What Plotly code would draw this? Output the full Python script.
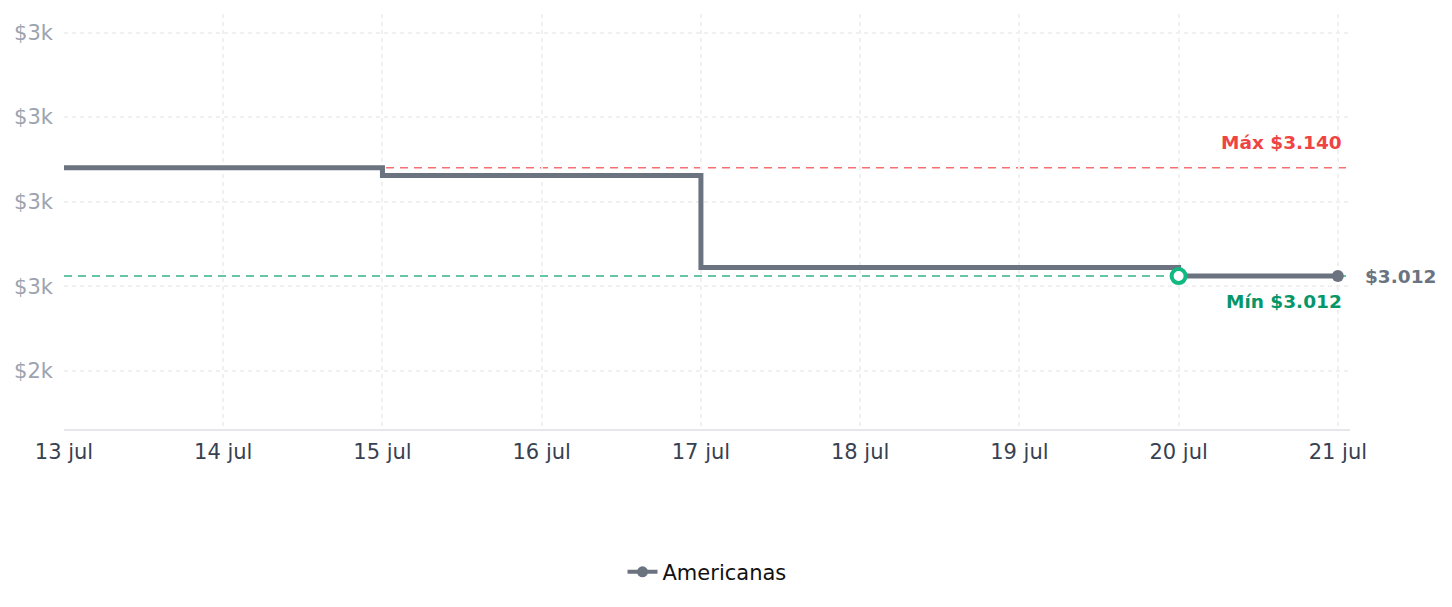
import plotly.graph_objects as go

dates = ["2024-07-13", "2024-07-14", "2024-07-15", "2024-07-16", "2024-07-17",
         "2024-07-18", "2024-07-19", "2024-07-20", "2024-07-21"]
prices = [3140, 3140, 3131, 3131, 3022, 3022, 3022, 3012, 3012]
x_ticks = dates
x_labels = ["13 jul", "14 jul", "15 jul", "16 jul", "17 jul", "18 jul", "19 jul", "20 jul", "21 jul"]
y_ticks = [2900, 3000, 3100, 3200, 3300]
y_labels = ["$2k", "$3k", "$3k", "$3k", "$3k"]
max_price = 3140
min_price = 3012
min_date = "2024-07-20"
last_date = "2024-07-21"
last_price = 3012

GRAY = "#6b7280"
FONT = "DejaVu Sans"

fig = go.Figure()

# reference lines
fig.add_shape(type="line", xref="paper", x0=0, x1=1, yref="y", y0=max_price, y1=max_price,
              line=dict(color="#f87171", width=1.5, dash="8px,6px"), layer="below")
fig.add_shape(type="line", xref="paper", x0=0, x1=1, yref="y", y0=min_price, y1=min_price,
              line=dict(color="#34b38a", width=1.5, dash="8px,6px"), layer="below")

fig.add_trace(go.Scatter(
    x=dates, y=prices, mode="lines", line=dict(color=GRAY, width=5, shape="hv"),
    showlegend=False, hoverinfo="skip"))

fig.add_trace(go.Scatter(
    x=[last_date], y=[last_price], mode="markers",
    marker=dict(color=GRAY, size=12), showlegend=False))

fig.add_trace(go.Scatter(
    x=[min_date], y=[min_price], mode="markers",
    marker=dict(color="white", size=14, line=dict(color="#10b981", width=4)),
    showlegend=False))

# legend entry
fig.add_trace(go.Scatter(
    x=[None], y=[None], mode="lines+markers", name="Americanas",
    line=dict(color=GRAY, width=4), marker=dict(color=GRAY, size=11)))

fig.add_annotation(x=1, xref="paper", xanchor="right", xshift=-6, y=max_price, yref="y",
                   yanchor="bottom", yshift=13, text="<b>Máx $3.140</b>", showarrow=False,
                   font=dict(color="#ef4444", size=18.5, family=FONT))
fig.add_annotation(x=1, xref="paper", xanchor="right", xshift=-6, y=min_price, yref="y",
                   yanchor="top", yshift=-13, text="<b>Mín $3.012</b>", showarrow=False,
                   font=dict(color="#059669", size=18.5, family=FONT))
fig.add_annotation(x=last_date, y=last_price, xanchor="left", xshift=25, yanchor="middle",
                   text="<b>$3.012</b>", showarrow=False,
                   font=dict(color=GRAY, size=18.5, family=FONT))

fig.update_layout(
    width=1452, height=607,
    margin=dict(l=64, r=102, t=14, b=178),
    paper_bgcolor="white", plot_bgcolor="white",
    font=dict(family=FONT, size=21),
    legend=dict(orientation="h", x=0.5, xanchor="center", y=-0.345, yanchor="middle",
                font=dict(size=21, color="#111111", family=FONT)),
    xaxis=dict(type="date", range=["2024-07-13", "2024-07-21 01:50"],
               tickvals=x_ticks, ticktext=x_labels,
               showgrid=True, gridcolor="#f0f0f0", griddash="4px,4px", gridwidth=1.5,
               showline=True, linecolor="#e5e7eb", linewidth=1.5,
               tickfont=dict(color="#374151", size=21), zeroline=False, ticks="", ticklen=0,
               ticklabelstandoff=3),
    yaxis=dict(range=[2831, 3322], tickvals=y_ticks, ticktext=y_labels,
               showgrid=True, gridcolor="#f0f0f0", griddash="4px,4px", gridwidth=1.5,
               showline=False, zeroline=False,
               tickfont=dict(color="#9ca3af", size=21), ticks="", ticklabelstandoff=10),
)

fig.write_html("out.html")
